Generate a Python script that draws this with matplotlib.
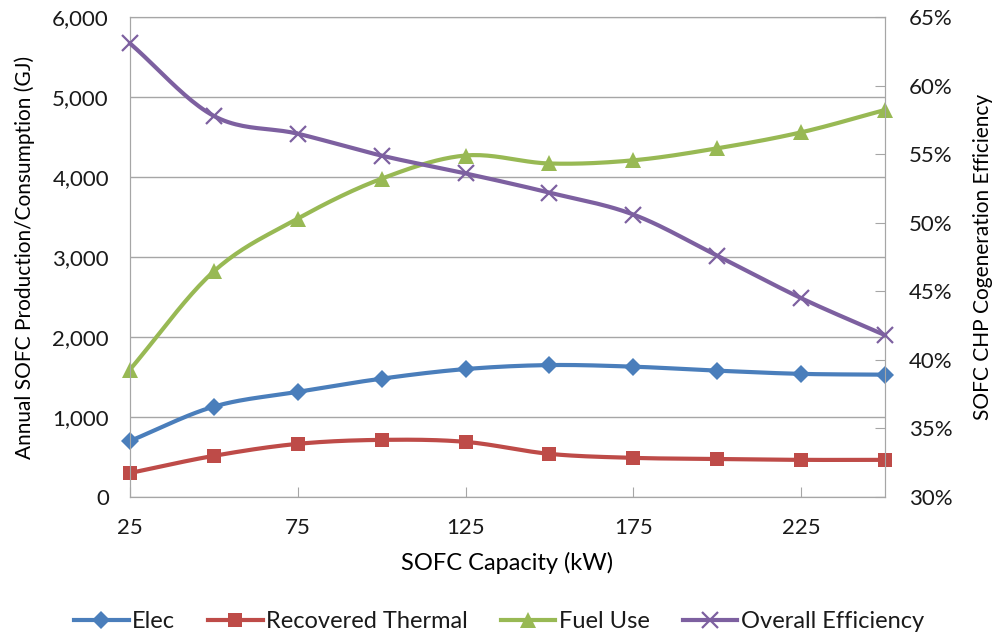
import numpy as np
import matplotlib
matplotlib.use("Agg")
import matplotlib.pyplot as plt
from matplotlib.ticker import FuncFormatter, MultipleLocator
from matplotlib.lines import Line2D

plt.rcParams.update({"font.family": ["Lato", "DejaVu Sans"], "font.size": 16,
                     "text.color": "#1a1a1a", "xtick.labelcolor": "#1a1a1a",
                     "ytick.labelcolor": "#1a1a1a"})

capacity = [25, 50, 75, 100, 125, 150, 175, 200, 225, 250]
elec = [700, 1130, 1315, 1480, 1600, 1650, 1630, 1580, 1540, 1530]
thermal = [300, 515, 665, 715, 690, 540, 490, 476, 465, 465]
fuel = [1590, 2820, 3480, 3980, 4270, 4170, 4210, 4360, 4560, 4840]
efficiency = [63.1, 57.8, 56.5, 54.9, 53.6, 52.2, 50.6, 47.6, 44.5, 41.8]

C_ELEC, C_THERM, C_FUEL, C_EFF = "#4A7EBB", "#BE4B48", "#98B954", "#7D60A0"
GRID = "#A6A6A6"


def smooth(x, y, n=24):
    # Catmull-Rom curve through the points, like Excel's smoothed line
    x = np.asarray(x, float); y = np.asarray(y, float)
    px = np.concatenate([[2 * x[0] - x[1]], x, [2 * x[-1] - x[-2]]])
    py = np.concatenate([[2 * y[0] - y[1]], y, [2 * y[-1] - y[-2]]])
    xs, ys = [], []
    t = np.linspace(0, 1, n)
    for i in range(1, len(px) - 2):
        for p, out in ((px, xs), (py, ys)):
            p0, p1, p2, p3 = p[i - 1], p[i], p[i + 1], p[i + 2]
            out.extend(0.5 * ((2 * p1) + (-p0 + p2) * t + (2 * p0 - 5 * p1 + 4 * p2 - p3) * t ** 2
                              + (-p0 + 3 * p1 - 3 * p2 + p3) * t ** 3))
    return xs, ys


fig = plt.figure(figsize=(9.98, 6.34), dpi=100)
ax = fig.add_axes([0.130, 0.216, 0.757, 0.757])
ax2 = ax.twinx()

series = [(ax, elec, C_ELEC, "D", 9.5), (ax, thermal, C_THERM, "s", 10.5),
          (ax, fuel, C_FUEL, "^", 12), (ax2, efficiency, C_EFF, "x", 11)]
for a, vals, col, mk, ms in series:
    sx, sy = smooth(capacity, vals)
    a.plot(sx, sy, color=col, lw=3, solid_capstyle="round", clip_on=False, zorder=3)
    a.plot(capacity, vals, ls="none", marker=mk, ms=ms, color=col, mew=1.6 if mk == "x" else 0,
           clip_on=False, zorder=4)

ax.set_xlim(25, 250)
ax.set_ylim(0, 6000)
ax.yaxis.set_major_locator(MultipleLocator(1000))
ax.yaxis.set_major_formatter(FuncFormatter(lambda v, p: f"{v:,.0f}"))
ax.set_xticks([25, 75, 125, 175, 225])
ax.grid(axis="y", color=GRID, lw=1)
ax.set_axisbelow(True)
ax.tick_params(axis="y", length=0, pad=15)
ax.tick_params(axis="x", direction="in", length=7, color=GRID, pad=15)

ax2.set_ylim(30, 65)
ax2.yaxis.set_major_locator(MultipleLocator(5))
ax2.yaxis.set_major_formatter(FuncFormatter(lambda v, p: f"{v:.0f}%"))
ax2.tick_params(axis="y", direction="in", length=7, color=GRID, pad=17)

for a in (ax, ax2):
    for s in a.spines.values():
        s.set_color(GRID)

ax.set_xlabel("SOFC Capacity (kW)", fontsize=17, labelpad=10)
ax.set_ylabel("Annual SOFC Production/Consumption (GJ)", fontsize=15, labelpad=12)
ax2.set_ylabel("SOFC CHP Cogeneration Efficiency", fontsize=15, rotation=90, labelpad=15)

handles = [Line2D([], [], color=c, lw=3, marker=m, ms=ms, mew=1.6 if m == "x" else 0)
           for _, _, c, m, ms in series]
labels = ["Elec", "Recovered Thermal", "Fuel Use", "Overall Efficiency"]
fig.legend(handles, labels, loc="center", bbox_to_anchor=(0.5, 0.02), ncol=4, frameon=False,
           fontsize=17, handlelength=2.3, columnspacing=1.4, handletextpad=0.15)

fig.savefig("out.png", dpi=100)
